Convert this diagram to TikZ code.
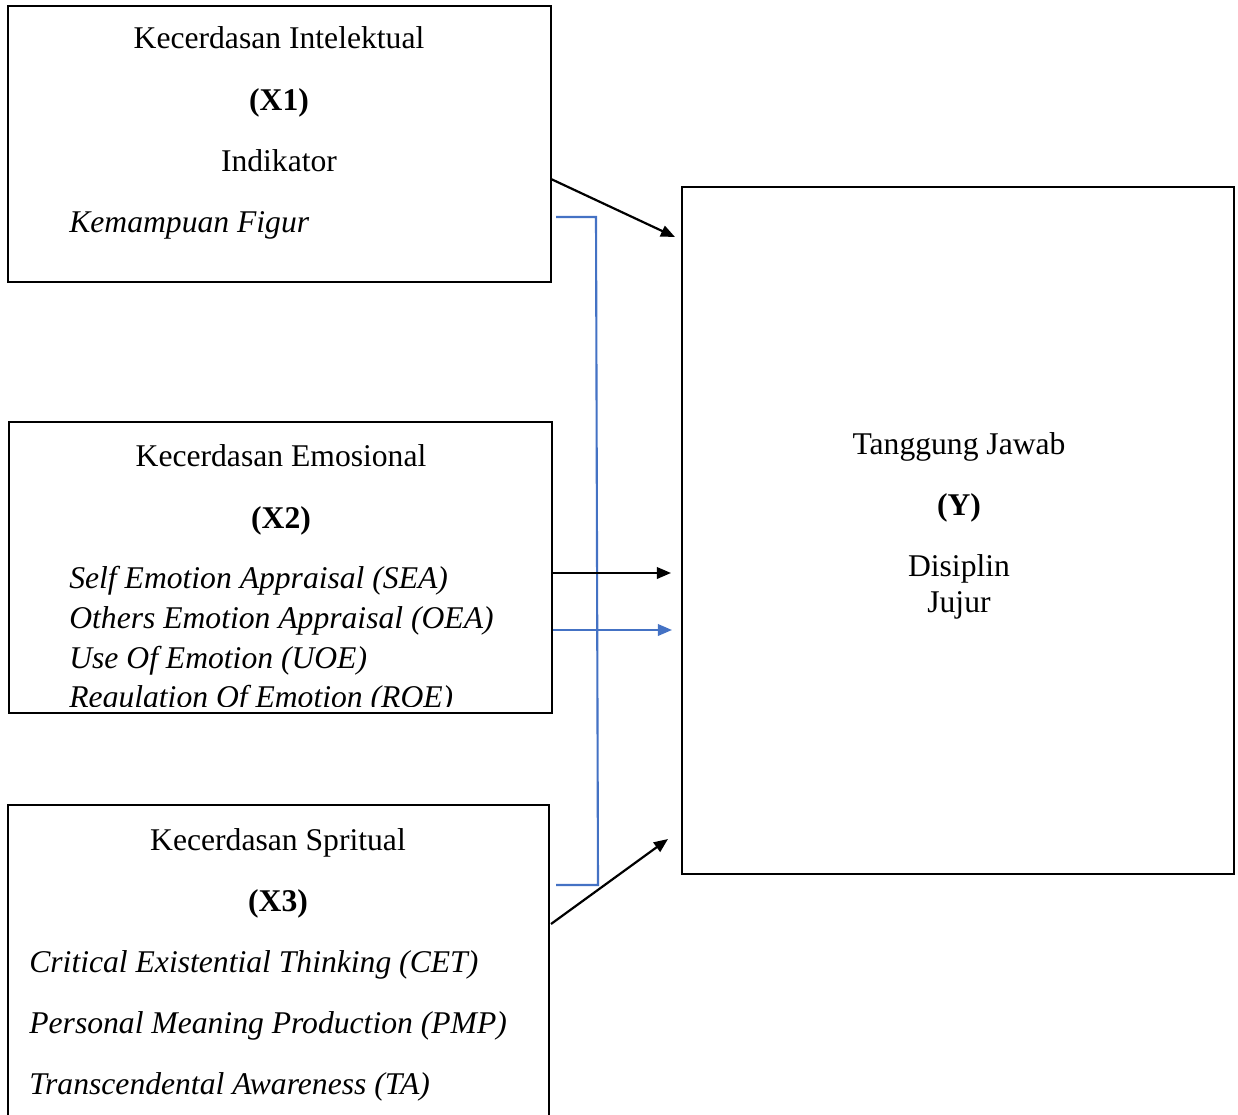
\documentclass[tikz,border=0pt]{standalone}
\usepackage{fontspec}
\setmainfont{Liberation Serif}
\usetikzlibrary{arrows.meta}
\definecolor{garisbiru}{RGB}{68,114,196}
\begin{document}
\begin{tikzpicture}
  [x=0.02cm, y=-0.02cm,
   font=\fontsize{18}{21.6}\selectfont,
   kotak/.style={draw=black,line width=1.4pt,rectangle,inner sep=0pt},
   judul/.style={anchor=base,inner sep=0pt},
   ind/.style={anchor=base west,inner sep=0pt,font=\fontsize{18}{21.6}\selectfont\itshape},
   panah/.style={line width=1.25pt,-{Triangle[length=8pt,width=6.5pt]}},
   biru/.style={draw=garisbiru,line width=1.2pt}]
  \clip (0,0) rectangle (1238,1115);
  % kotak
  \node at (279.5,144) (x1) [kotak,minimum width=10.86cm,minimum height=5.52cm] {};
  \node at (280.5,567.5) (x2) [kotak,minimum width=10.86cm,minimum height=5.82cm] {};
  \node at (278.5,970) (x3) [kotak,minimum width=10.82cm,minimum height=6.6cm] {};
  \node at (958,530.5) (y) [kotak,minimum width=11.04cm,minimum height=13.74cm] {};
  % X1
  \node at (279,49) (x1a) [judul] {Kecerdasan Intelektual};
  \node at (279,111) (x1b) [judul] {\textbf{(X1)}};
  \node at (279,172) (x1c) [judul] {Indikator};
  \node at (69,233) (x1d) [ind] {Kemampuan Figur};
  % X2
  \node at (281,466) (x2a) [judul] {Kecerdasan Emosional};
  \node at (281,528) (x2b) [judul] {\textbf{(X2)}};
  \node at (69,588) (x2c) [ind] {Self Emotion Appraisal (SEA)};
  \node at (69,628) (x2d) [ind] {Others Emotion Appraisal (OEA)};
  \node at (69,668) (x2e) [ind] {Use Of Emotion (UOE)};
  \begin{scope}
    \clip (20,672) rectangle (540,706);
    \node at (69,707) (x2f) [ind] {Regulation Of Emotion (ROE)};
  \end{scope}
  % X3
  \node at (278,850) (x3a) [judul] {Kecerdasan Spritual};
  \node at (278,911) (x3b) [judul] {\textbf{(X3)}};
  \node at (29,972) (x3c) [ind] {Critical Existential Thinking (CET)};
  \node at (29,1033) (x3d) [ind] {Personal Meaning Production (PMP)};
  \node at (29,1094) (x3e) [ind] {Transcendental Awareness (TA)};
  % Y
  \node at (959,454) (ya) [judul] {Tanggung Jawab};
  \node at (959,515) (yb) [judul] {\textbf{(Y)}};
  \node at (959,576) (yc) [judul] {Disiplin};
  \node at (959,612) (yd) [judul] {Jujur};
  % titik ujung
  \coordinate (p1) at (551,179);
  \coordinate (q1) at (675,237);
  \coordinate (p2) at (551,573);
  \coordinate (q2) at (671,573);
  \coordinate (p3) at (553,630);
  \coordinate (q3) at (672,630);
  \coordinate (p4) at (551,924);
  \coordinate (q4) at (668,839);
  \coordinate (b1) at (556,217);
  \coordinate (b2) at (596,217);
  \coordinate (b3) at (598,885);
  \coordinate (b4) at (556,885);
  % garis
  \draw [biru] (b1) -- (b2) -- (b3) -- (b4);
  \draw [panah] (p1) -- (q1);
  \draw [panah] (p2) -- (q2);
  \draw [panah,garisbiru] (p3) -- (q3);
  \draw [panah] (p4) -- (q4);
\end{tikzpicture}
\end{document}
